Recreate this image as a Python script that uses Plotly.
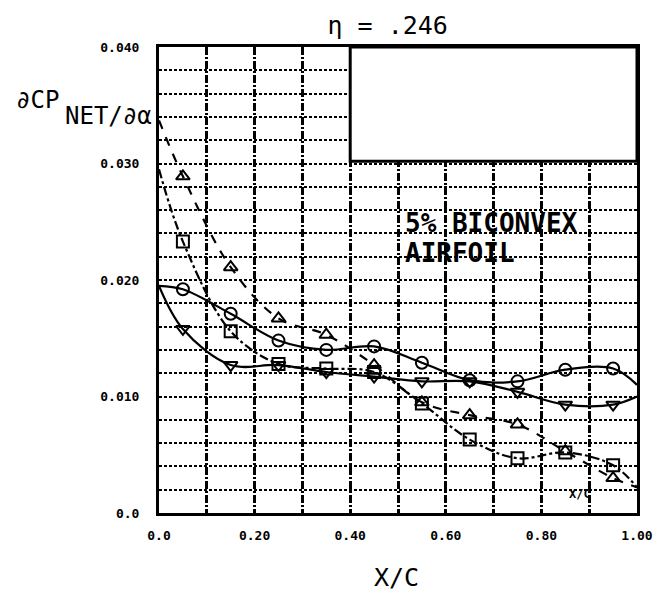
import plotly.graph_objects as go

# ---------------- data ----------------
x_stations = [0.05, 0.15, 0.25, 0.35, 0.45, 0.55, 0.65, 0.75, 0.85, 0.95]
circle_vals = [0.0192, 0.0171, 0.0148, 0.0140, 0.0143, 0.0129, 0.0114, 0.0113, 0.0123, 0.0124]
square_vals = [0.0233, 0.0156, 0.0128, 0.0124, 0.0121, 0.0094, 0.0063, 0.0047, 0.0052, 0.0041]
tri_up_vals = [0.0289, 0.0211, 0.0167, 0.0153, 0.0127, 0.0095, 0.0084, 0.0076, 0.0053, 0.0030]
tri_dn_vals = [0.0158, 0.0127, 0.0127, 0.0121, 0.0117, 0.0113, 0.0113, 0.0104, 0.0093, 0.0093]

# faired-curve values at the leading (x=0) and trailing (x=1) edges
edge_x = [0.0, 1.0]
circle_edges = [0.0195, 0.0110]
square_edges = [0.0295, 0.0022]
tri_up_edges = [0.0337, 0.0022]
tri_dn_edges = [0.0195, 0.0100]

x_grid_vals = [0.0, 0.1, 0.2, 0.3, 0.4, 0.5, 0.6, 0.7, 0.8, 0.9, 1.0]
x_tick_text = ["0.0", "", "0.20", "", "0.40", "", "0.60", "", "0.80", "", "1.00"]
y_grid_vals = [i * 0.002 for i in range(21)]
y_tick_text = ["0.0", "", "", "", "", "0.010", "", "", "", "", "0.020",
               "", "", "", "", "0.030", "", "", "", "", "0.040"]

title_text = "η = .246"
note_lines = ["5% BICONVEX", "AIRFOIL"]

# ---------------- figure ----------------
fig = go.Figure()

series = [
    (circle_vals, circle_edges, "circle-open", "solid"),
    (square_vals, square_edges, "square-open", "dashdot"),
    (tri_up_vals, tri_up_edges, "triangle-up-open", "dash"),
    (tri_dn_vals, tri_dn_edges, "triangle-down-open", "solid"),
]

for vals, edges, sym, dash in series:
    cx = [edge_x[0]] + x_stations + [edge_x[1]]
    cy = [edges[0]] + vals + [edges[1]]
    fig.add_trace(go.Scatter(
        x=cx, y=cy, mode="lines",
        line=dict(color="black", width=2.2, dash=dash, shape="spline", smoothing=1.0),
        hoverinfo="skip", showlegend=False))
    fig.add_trace(go.Scatter(
        x=x_stations, y=vals, mode="markers",
        marker=dict(symbol=sym, size=12, color="black", line=dict(color="black", width=2)),
        showlegend=False))

mono = "DejaVu Sans Mono"

fig.update_layout(
    width=665, height=594,
    margin=dict(l=159, r=21, t=47, b=81),
    paper_bgcolor="white", plot_bgcolor="white",
    showlegend=False,
    title=dict(text=title_text, x=0.583, xref="container", xanchor="center",
               y=1 - 25 / 594, yref="container", yanchor="middle",
               font=dict(family=mono, size=25, color="black")),
)

fig.update_xaxes(
    range=[0, 1.0], tickvals=x_grid_vals, ticktext=x_tick_text,
    showgrid=True, gridcolor="black", gridwidth=2.5, griddash="8px,2px,2px,2px",
    showline=True, linecolor="black", linewidth=3, mirror=True,
    ticks="", zeroline=False, ticklabelstandoff=8,
    tickfont=dict(family=mono, size=13, color="black", weight="bold"),
)
fig.update_yaxes(
    range=[0, 0.040], tickvals=y_grid_vals, ticktext=y_tick_text,
    showgrid=True, gridcolor="black", gridwidth=1.5, griddash="3px,2px",
    showline=True, linecolor="black", linewidth=3, mirror=True,
    ticks="", zeroline=False, ticklabelstandoff=14,
    tickfont=dict(family=mono, size=13, color="black", weight="bold"),
)

# blank box in upper right
fig.add_shape(type="rect", xref="x", yref="y", x0=0.4, x1=1.0, y0=0.0302, y1=0.040,
              fillcolor="white", line=dict(color="black", width=3), layer="above")

annos = [
    dict(text=note_lines[0], x=0.51, y=0.0249, xref="x", yref="y", xanchor="left",
         yanchor="middle", font=dict(family=mono, size=26, color="black", weight="bold")),
    dict(text=note_lines[1], x=0.51, y=0.0223, xref="x", yref="y", xanchor="left",
         yanchor="middle", font=dict(family=mono, size=26, color="black", weight="bold")),
    dict(text="X/C", x=0.88, y=0.0016, xref="x", yref="y", xanchor="center",
         yanchor="middle", font=dict(family=mono, size=12, color="black", weight="bold")),
    dict(text="∂CP", x=(12 - 159) / 485, y=(513 - 100) / 466, xref="paper", yref="paper",
         xanchor="left", yanchor="middle", font=dict(family=mono, size=24, color="black")),
    dict(text="NET/∂α", x=(62 - 159) / 485, y=(513 - 116) / 466, xref="paper", yref="paper",
         xanchor="left", yanchor="middle", font=dict(family=mono, size=24, color="black")),
    dict(text="X/C", x=(400 - 159) / 485, y=(513 - 577) / 466, xref="paper", yref="paper",
         xanchor="center", yanchor="middle", font=dict(family=mono, size=25, color="black")),
]
for a in annos:
    fig.add_annotation(showarrow=False, **a)

fig.write_html("out.html")
